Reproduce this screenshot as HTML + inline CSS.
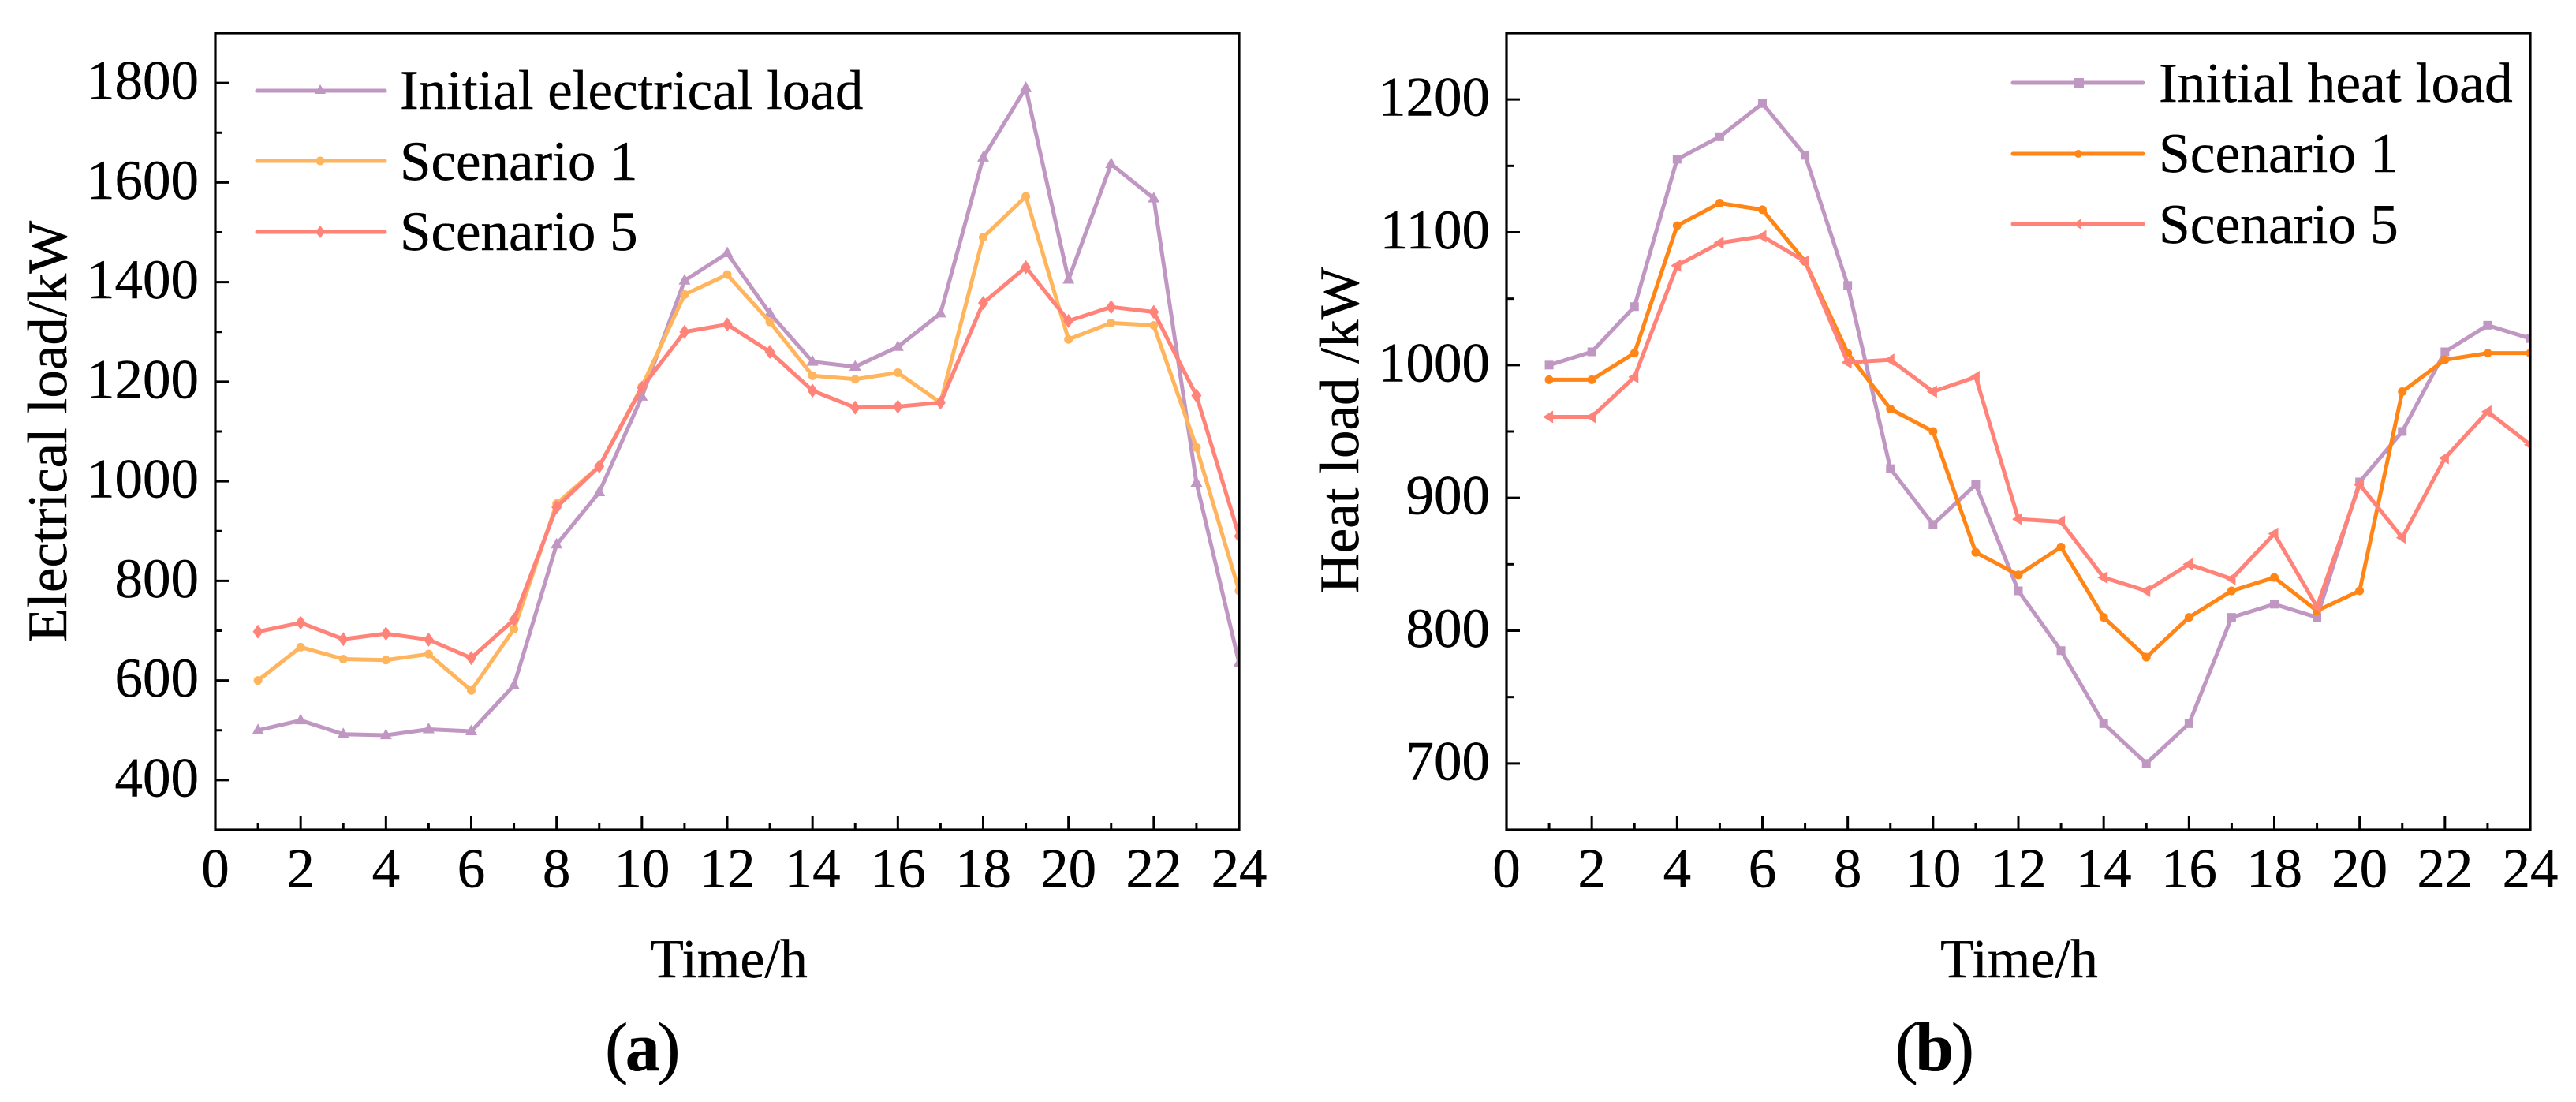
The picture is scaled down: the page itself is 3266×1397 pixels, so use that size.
<!DOCTYPE html>
<html lang="en">
<head>
<meta charset="utf-8">
<title>Electrical and heat load by scenario</title>
<style>
html,body{margin:0;padding:0;background:#fff;width:3266px;height:1397px;overflow:hidden}
svg{display:block}
text{font-family:"Liberation Serif","Times New Roman",serif;fill:#000;stroke:#000;stroke-width:0.4px;text-rendering:geometricPrecision}
</style>
</head>
<body>
<svg id="figure" xmlns="http://www.w3.org/2000/svg" width="3266" height="1397" viewBox="0 0 3266 1397">
  <defs>
    <clipPath id="clip-a"><rect x="273" y="42" width="1298" height="1010"/></clipPath>
    <clipPath id="clip-b"><rect x="1910" y="42" width="1298" height="1010"/></clipPath>
  </defs>
  <g id="panel-a">
    <text transform="translate(84,547) rotate(-90)" text-anchor="middle" font-size="71">Electrical load/kW</text>
    <text x="924" y="1239" text-anchor="middle" font-size="70">Time/h</text>
    <text x="813" y="1357" text-anchor="middle" font-size="88" letter-spacing="-3.5">(<tspan font-weight="bold">a</tspan>)</text>
    <g>
      <g>
        <line x1="326" y1="115" x2="488" y2="115" stroke="#C096C2" stroke-width="5" stroke-linecap="round"/>
        <polygon points="406,107 413,119 399,119" fill="#C096C2"/>
        <text x="507" y="138" font-size="71">Initial electrical load</text>
      </g>
      <g>
        <line x1="326" y1="204" x2="488" y2="204" stroke="#FFB55E" stroke-width="5" stroke-linecap="round"/>
        <circle cx="406" cy="204" r="5.5" fill="#FFB55E"/>
        <text x="507" y="228" font-size="71">Scenario 1</text>
      </g>
      <g>
        <line x1="326" y1="294" x2="488" y2="294" stroke="#FF8379" stroke-width="5" stroke-linecap="round"/>
        <polygon points="406,286 412,294 406,302 400,294" fill="#FF8379"/>
        <text x="507" y="317" font-size="71">Scenario 5</text>
      </g>
    </g>
  </g>
  <g id="panel-b">
    <text transform="translate(1722,545.5) rotate(-90)" text-anchor="middle" font-size="71">Heat load /kW</text>
    <text x="2560" y="1239" text-anchor="middle" font-size="70">Time/h</text>
    <text x="2451" y="1357" text-anchor="middle" font-size="88" letter-spacing="-3.5">(<tspan font-weight="bold">b</tspan>)</text>
    <g>
      <g>
        <line x1="2552" y1="105" x2="2717" y2="105" stroke="#C096C2" stroke-width="5" stroke-linecap="round"/>
        <rect x="2629" y="99" width="13" height="12" fill="#C096C2"/>
        <text x="2737" y="129" font-size="71.5">Initial heat load</text>
      </g>
      <g>
        <line x1="2552" y1="195" x2="2717" y2="195" stroke="#FF8516" stroke-width="5" stroke-linecap="round"/>
        <circle cx="2635" cy="195" r="5" fill="#FF8516"/>
        <text x="2737" y="218" font-size="71.5">Scenario 1</text>
      </g>
      <g>
        <line x1="2552" y1="284" x2="2717" y2="284" stroke="#FF8379" stroke-width="5" stroke-linecap="round"/>
        <polygon points="2628,284 2639,277 2639,291" fill="#FF8379"/>
        <text x="2737" y="308" font-size="71.5">Scenario 5</text>
      </g>
    </g>
  </g>
</svg>
<script>
// Shared x axis
const hours = [1,2,3,4,5,6,7,8,9,10,11,12,13,14,15,16,17,18,19,20,21,22,23,24];
const xTickLabels = [0,2,4,6,8,10,12,14,16,18,20,22,24];
const xMinorTicks = [1,3,5,7,9,11,13,15,17,19,21,23];

// Panel (a): electrical load, kW
const electricalInitial = [500,520,492,490,502,498,590,873,978,1170,1403,1458,1337,1240,1230,1270,1337,1650,1790,1405,1637,1568,997,635];
const electricalScenario1 = [600,667,643,641,653,580,703,955,1030,1190,1375,1415,1320,1212,1205,1218,1158,1490,1572,1285,1318,1313,1068,780];
const electricalScenario5 = [698,716,683,694,682,645,722,948,1030,1188,1300,1315,1260,1182,1148,1150,1158,1358,1430,1322,1350,1340,1172,890];
const electricalYTicks = [400,600,800,1000,1200,1400,1600,1800];
const electricalYMinorTicks = [500,700,900,1100,1300,1500,1700];

// Panel (b): heat load, kW
const heatInitial = [1000,1010,1044,1155,1172,1197,1158,1060,922,880,910,830,785,730,700,730,810,820,810,912,950,1010,1030,1020];
const heatScenario1 = [989,989,1009,1105,1122,1117,1078,1009,967,950,859,842,863,810,780,810,830,840,815,830,980,1004,1009,1009];
const heatScenario5 = [961,961,991,1075,1092,1097,1078,1002,1004,980,991,884,882,840,830,850,839,873,818,910,870,930,965,940];
const heatYTicks = [700,800,900,1000,1100,1200];
const heatYMinorTicks = [750,850,950,1050,1150];

const NS = 'http://www.w3.org/2000/svg';

function add(parent, tag, name, attrs) {
  const el = document.createElementNS(NS, tag);
  
  
  for (const k in attrs) el.setAttribute(k, attrs[k]);
  parent.appendChild(el);
  return el;
}

function drawMarker(parent, shape, x, y, color, name) {
  if (shape === 'triangle') {
    add(parent, 'polygon', name, {points: [x, y-8.5, x+7.5, y+5, x-7.5, y+5].join(','), fill: color});
  } else if (shape === 'circle') {
    add(parent, 'circle', name, {cx: x, cy: y, r: 5.5, fill: color});
  } else if (shape === 'diamond') {
    add(parent, 'polygon', name, {points: [x, y-9, x+6.5, y, x, y+9, x-6.5, y].join(','), fill: color});
  } else if (shape === 'square') {
    add(parent, 'rect', name, {x: x-5.5, y: y-5.5, width: 11, height: 11, fill: color});
  } else if (shape === 'left') {
    add(parent, 'polygon', name, {points: [x-8, y, x+5, y-8, x+5, y+8].join(','), fill: color});
  }
}

function drawPanel(rootId, clipId, box, yDomain, yTicks, yMinor, seriesList) {
  const root = document.getElementById(rootId);
  const xScale = v => box.left + (v / 24) * (box.right - box.left);
  const yScale = v => box.bottom - (v - yDomain[0]) / (yDomain[1] - yDomain[0]) * (box.bottom - box.top);

  const plot = add(root, 'g', 'plot-series', {'clip-path': 'url(#' + clipId + ')'});
  seriesList.forEach(s => {
    const g = add(plot, 'g', 'series-' + s.id, {});
    const pts = hours.map((h, i) => xScale(h).toFixed(2) + ',' + yScale(s.values[i]).toFixed(2)).join(' ');
    add(g, 'polyline', 'line-' + s.id, {points: pts, fill: 'none', stroke: s.color, 'stroke-width': 5, 'stroke-linejoin': 'round'});
    hours.forEach((h, i) => drawMarker(g, s.shape, xScale(h), yScale(s.values[i]), s.color, 'point-' + s.id + '-' + h));
  });

  add(root, 'rect', 'plot-frame', {x: box.left, y: box.top, width: box.right - box.left, height: box.bottom - box.top, fill: 'none', stroke: '#000', 'stroke-width': 3.2});

  const xAxis = add(root, 'g', 'x-axis', {});
  xTickLabels.forEach(v => {
    const x = xScale(v);
    add(xAxis, 'line', 'x-tick-' + v, {x1: x, x2: x, y1: box.bottom, y2: box.bottom - 17, stroke: '#000', 'stroke-width': 3});
    const t = add(xAxis, 'text', 'x-tick-label-' + v, {x: x, y: 1124.7, 'text-anchor': 'middle', 'font-size': 71});
    t.textContent = v;
  });
  xMinorTicks.forEach(v => {
    const x = xScale(v);
    add(xAxis, 'line', 'x-minor-tick-' + v, {x1: x, x2: x, y1: box.bottom, y2: box.bottom - 9, stroke: '#000', 'stroke-width': 3});
  });

  const yAxis = add(root, 'g', 'y-axis', {});
  yTicks.forEach(v => {
    const y = yScale(v);
    add(yAxis, 'line', 'y-tick-' + v, {x1: box.left, x2: box.left + 17, y1: y, y2: y, stroke: '#000', 'stroke-width': 3});
    const t = add(yAxis, 'text', 'y-tick-label-' + v, {x: box.left - 21, y: y + 20.5, 'text-anchor': 'end', 'font-size': 71});
    t.textContent = v;
  });
  yMinor.forEach(v => {
    const y = yScale(v);
    add(yAxis, 'line', 'y-minor-tick-' + v, {x1: box.left, x2: box.left + 9, y1: y, y2: y, stroke: '#000', 'stroke-width': 3});
  });
}

drawPanel('panel-a', 'clip-a', {left: 273, right: 1571, top: 42, bottom: 1052}, [300, 1900],
  electricalYTicks, electricalYMinorTicks, [
    {id: 'initial-electrical-load', values: electricalInitial, color: '#C096C2', shape: 'triangle'},
    {id: 'scenario-1', values: electricalScenario1, color: '#FFB55E', shape: 'circle'},
    {id: 'scenario-5', values: electricalScenario5, color: '#FF8379', shape: 'diamond'}
  ]);

drawPanel('panel-b', 'clip-b', {left: 1910, right: 3208, top: 42, bottom: 1052}, [650, 1250],
  heatYTicks, heatYMinorTicks, [
    {id: 'initial-heat-load', values: heatInitial, color: '#C096C2', shape: 'square'},
    {id: 'scenario-1', values: heatScenario1, color: '#FF8516', shape: 'circle'},
    {id: 'scenario-5', values: heatScenario5, color: '#FF8379', shape: 'left'}
  ]);
</script>
</body>
</html>
